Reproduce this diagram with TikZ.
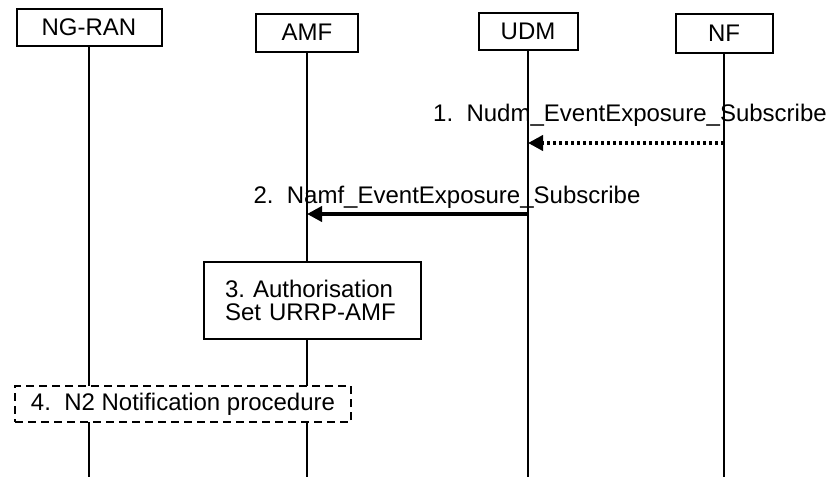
\documentclass[tikz,border=0pt]{standalone}
\usepackage{fontspec}
\setmainfont{Liberation Sans}
\usetikzlibrary{arrows.meta}
\definecolor{LineClr}{rgb}{0,0,0}

\tikzset{
  entity/.style={draw=LineClr,line width=1pt,fill=white,inner sep=0pt,minimum height=18.5pt},
  lifeline/.style={draw=LineClr,line width=0.6pt},
  msg/.style={line width=2pt,color=LineClr,-{Triangle[length=7.5pt,width=7.5pt]}},
  msglabel/.style={anchor=base,inner sep=0pt},
  stepbox/.style={draw=LineClr,line width=1pt,fill=white,minimum height=38.5pt,minimum width=108.5pt,
    text width=87.5pt,align=left,inner xsep=10.5pt,inner ysep=0pt},
  procbox/.style={draw=LineClr,line width=1pt,fill=white,dash pattern=on 4pt off 2.5pt,
    minimum height=18pt,minimum width=168pt,inner sep=0pt}
}

\begin{document}
\begin{tikzpicture}[x=0.5pt,y=-0.5pt,font=\fontsize{12}{11.5}\selectfont]
\useasboundingbox (0,0) rectangle (826,477);

\node[entity,minimum width=72.5pt] (ngran) at (89,27.5) {NG-RAN};
\node[entity,minimum width=51pt,minimum height=19pt] (amf) at (307,32.5) {AMF};
\node[entity,minimum width=49.5pt] (udm) at (528,31.5) {UDM};
\node[entity,minimum width=48.5pt,minimum height=19.5pt] (nf) at (724,33.5) {NF};

\coordinate (ngranEnd) at (ngran.south |- 0,477);
\coordinate (amfEnd) at (amf.south |- 0,477);
\coordinate (udmEnd) at (udm.south |- 0,477);
\coordinate (nfEnd) at (nf.south |- 0,477);

\draw[lifeline] (ngran.south) -- (ngranEnd);
\draw[lifeline] (amf.south) -- (amfEnd);
\draw[lifeline] (udm.south) -- (udmEnd);
\draw[lifeline] (nf.south) -- (nfEnd);

\coordinate (nf1) at (nf.south |- 0,143);
\coordinate (udm1) at (udm.south |- 0,143);
\coordinate (udm2) at (udm.south |- 0,214);
\coordinate (amf2) at (amf.south |- 0,214);

\node[msglabel] (lbl1) at (630,121) {1.\ \ Nudm\_EventExposure\_Subscribe};
\draw[msg,dash pattern=on 1.5pt off 1.5pt] (nf1) -- (udm1);

\node[msglabel] (lbl2) at (447,203) {2.\ \ Namf\_EventExposure\_Subscribe};
\draw[msg] (udm2) -- (amf2);

\node[stepbox] (auth) at (312.5,300.5) {3.\ Authorisation\\Set URRP-AMF};

\node[procbox] (notif) at (183,404) {4.\ \ N2 Notification procedure};

\end{tikzpicture}
\end{document}
